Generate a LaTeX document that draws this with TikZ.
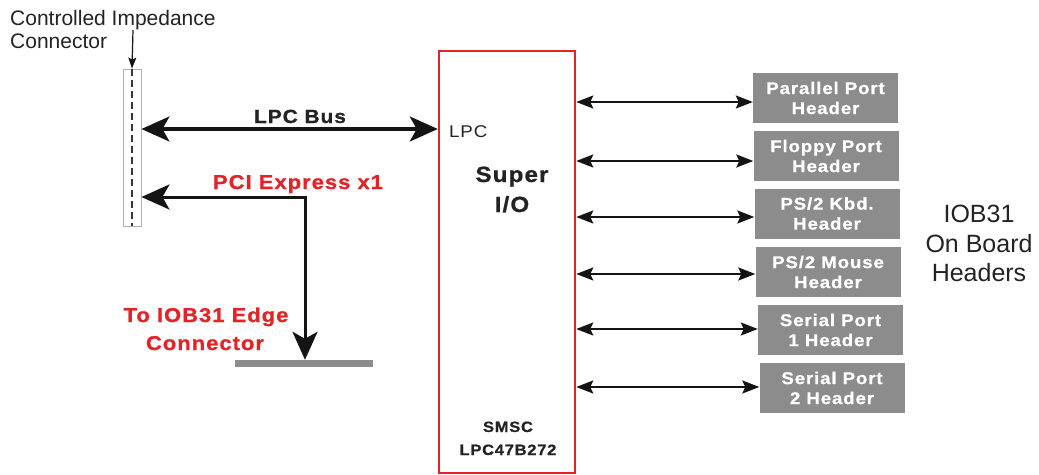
\documentclass[tikz,border=0pt]{standalone}
\usepackage{fontspec}
\setmainfont{Liberation Sans}
\newfontfamily\widefont{Liberation Sans}[FakeStretch=1.1, LetterSpace=5, BoldFeatures={FakeBold=0.8}]
\usetikzlibrary{arrows.meta}
\definecolor{redc}{RGB}{226,36,40}
\definecolor{hdrgray}{RGB}{140,140,140}
\definecolor{framegray}{RGB}{175,175,175}
\definecolor{ink}{RGB}{20,20,20}
\definecolor{txtgray}{RGB}{35,35,35}
\tikzset{
  bigarrow/.style={line width=3.2pt, draw=ink, {Stealth[length=28pt,width=25pt,inset=7pt]}-{Stealth[length=28pt,width=25pt,inset=7pt]}},
  midarrow/.style={line width=2pt, draw=ink, {Stealth[length=17pt,width=13pt,inset=3pt]}-{Stealth[length=17pt,width=13pt,inset=3pt]}},
  tinyarrow/.style={line width=1.2pt, draw=ink, -{Stealth[length=11pt,width=8pt,inset=2pt]}},
  hdr/.style={fill=hdrgray, draw=none, text=white, align=center, inner sep=0pt,
    minimum width=145pt, minimum height=50pt,
    font=\widefont\bfseries\fontsize{17}{20}\selectfont},
  boldlbl/.style={inner sep=0pt, anchor=base, font=\widefont\bfseries\fontsize{19}{22}\selectfont, text=txtgray},
  redlbl/.style={inner sep=0pt, anchor=base, font=\widefont\bfseries\fontsize{20}{24}\selectfont, text=redc},
  plainlbl/.style={inner sep=0pt, text=txtgray},
}
\begin{document}
\begin{tikzpicture}[x=1pt,y=-1pt]
\useasboundingbox[fill=white] (0,0) rectangle (1039,474);

% title
\node[plainlbl, anchor=north west, align=left, font=\fontsize{21}{23.5}\selectfont] (title) at (10,10) {Controlled Impedance\\Connector};
\coordinate (tarrow) at (133,30);

% connector
\node[draw=framegray, line width=0.9pt, minimum width=18pt, minimum height=157pt, inner sep=0pt] (conn) at (132,147.5) {};
\draw[line width=1.8pt, draw=ink!85, dash pattern=on 7pt off 4pt] (conn.north) -- (conn.south);
\draw[tinyarrow] (tarrow) -- (conn.north);

% super I/O
\node[draw=redc, line width=2.5pt, minimum width=136pt, minimum height=422pt, inner sep=0pt] (sio) at (507,262) {};
\node[inner sep=0pt, anchor=base west, font=\widefont\fontsize{17}{20}\selectfont, text=txtgray] (lpc) at (449,137) {LPC};
\node[boldlbl, font=\widefont\bfseries\fontsize{22}{30}\selectfont] (super) at (512,182) {Super};
\node[boldlbl, font=\widefont\bfseries\fontsize{22}{30}\selectfont] (io) at (512,212) {I/O};
\node[boldlbl, font=\widefont\bfseries\fontsize{15}{23}\selectfont] (smsc) at (508,432) {SMSC};
\node[boldlbl, font=\widefont\bfseries\fontsize{15}{23}\selectfont] (part) at (508,455) {LPC47B272};

% LPC bus
\coordinate (lpcy) at (300,129);
\draw[bigarrow] (conn.east |- lpcy) -- (sio.west |- lpcy);
\node[boldlbl] (lpcbus) at (300,123) {LPC Bus};

% PCI express
\node[fill=hdrgray, minimum width=138pt, minimum height=7pt, inner sep=0pt] (edge) at (304,363.5) {};
\coordinate (pcicorner) at (305,197);
\draw[bigarrow, line width=3pt] (conn.east |- pcicorner) -- (pcicorner) -- (pcicorner |- edge.north);
\node[redlbl] (pcilbl) at (298,189) {PCI Express x1};
\node[redlbl] (tolbl) at (206,322) {To IOB31 Edge};
\node[redlbl] (connlbl) at (205,350) {Connector};

% headers
\node[hdr] (hpar) at (825.5,98) {Parallel Port\\Header};
\node[hdr] (hflo) at (826,156) {Floppy Port\\Header};
\node[hdr] (hkbd) at (827,213.5) {PS/2 Kbd.\\Header};
\node[hdr] (hmou) at (828,272) {PS/2 Mouse\\Header};
\node[hdr] (hs1) at (830.5,330) {Serial Port\\1 Header};
\node[hdr] (hs2) at (832,388) {Serial Port\\2 Header};

\coordinate (apar) at ([yshift=-4pt]hpar.west);
\coordinate (aflo) at ([yshift=-5pt]hflo.west);
\coordinate (akbd) at ([yshift=-3.5pt]hkbd.west);
\coordinate (amou) at ([yshift=-2pt]hmou.west);
\coordinate (as1) at ([yshift=1pt]hs1.west);
\coordinate (as2) at ([yshift=1pt]hs2.west);
\foreach \a in {apar,aflo,akbd,amou,as1,as2}
  \draw[midarrow] (sio.east |- \a) -- (\a);

% on board label
\node[plainlbl, anchor=north, align=center, font=\fontsize{25}{29.5}\selectfont] (iob) at (979,205) {IOB31\\On Board\\Headers};
\end{tikzpicture}
\end{document}
